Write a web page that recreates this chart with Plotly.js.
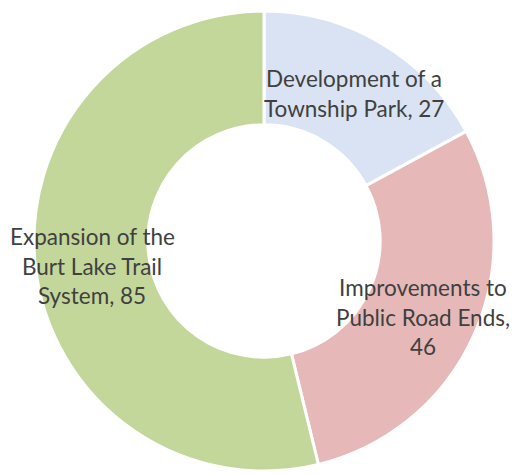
<!DOCTYPE html>
<html><head><meta charset="utf-8">
<script src="https://cdn.plot.ly/plotly-3.0.1.min.js"></script>
<style>html,body{margin:0;padding:0;background:#fff;}#chart{width:516px;height:475px;}</style>
</head><body><div id="chart"></div>
<script>
const categories = ["Development of a Township Park", "Improvements to Public Road Ends", "Expansion of the Burt Lake Trail System"];
const values = [27, 46, 85];
const labelLines = [
  ["Development of a", "Township Park, 27"],
  ["Improvements to", "Public Road Ends,", "46"],
  ["Expansion of the", "Burt Lake Trail", "System, 85"]
];
const colors = ["#dae3f3", "#e6b9b8", "#c4d79b"];

// label block centres (paper px) and line spacing
const labelPos = [[353.5, 93.5], [423, 317], [92, 266]];
const lineGap = 29.5;
const W = 516, H = 475;
const annotations = [];
labelLines.forEach((lines, i) => {
  const [cx, cy] = labelPos[i];
  lines.forEach((t, j) => {
    const y = cy + (j - (lines.length - 1) / 2) * lineGap;
    annotations.push({
      text: t, xref: "paper", yref: "paper", x: cx / W, y: 1 - y / H,
      xanchor: "center", yanchor: "middle", showarrow: false,
      font: {family: "Lato, 'Open Sans', sans-serif", size: 22.5, color: "#404040"}
    });
  });
});

const trace = {
  type: "pie", labels: categories, values: values, hole: 0.505,
  sort: false, direction: "clockwise", rotation: 0,
  marker: {colors: colors, line: {color: "#ffffff", width: 3}},
  textinfo: "none", hoverinfo: "label+value",
  domain: {x: [34 / W, 494 / W], y: [1 - 471 / H, 1 - 11 / H]}
};
Plotly.newPlot("chart", [trace], {
  width: W, height: H, margin: {l: 0, r: 0, t: 0, b: 0},
  showlegend: false, paper_bgcolor: "#ffffff", annotations: annotations
}, {staticPlot: true});
</script></body></html>
